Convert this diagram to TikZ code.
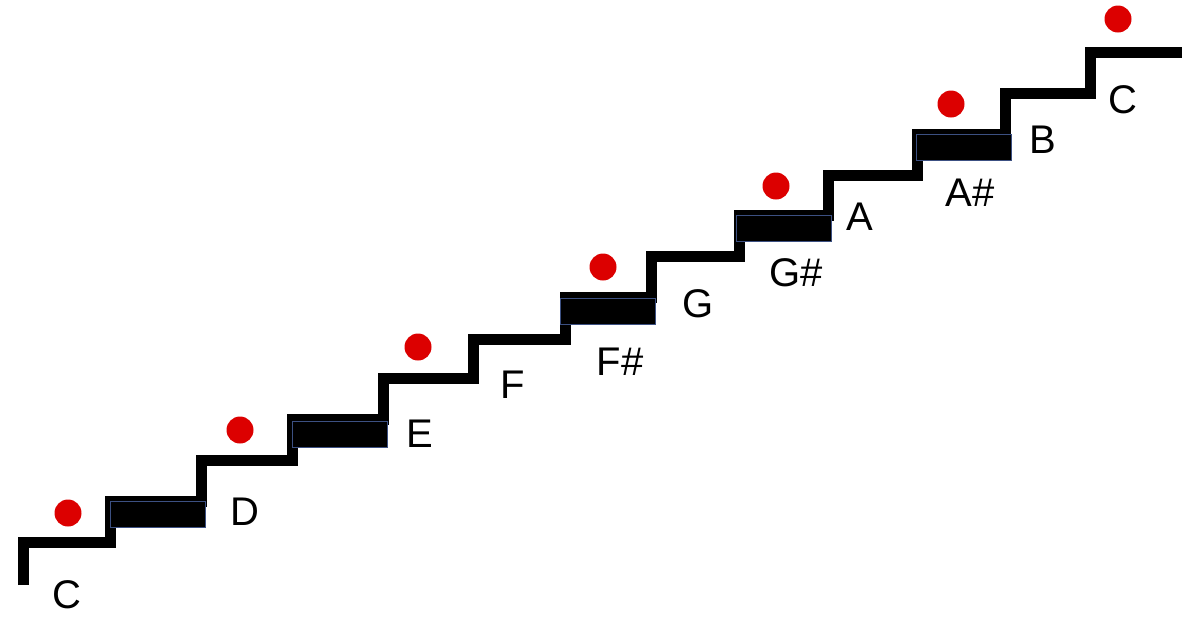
\documentclass[tikz,border=0pt]{standalone}
\usepackage{fontspec}
\setmainfont{Liberation Sans}
\definecolor{dotred}{RGB}{220,0,0}
\definecolor{keyedge}{RGB}{60,80,130}
\begin{document}
\begin{tikzpicture}[x=0.5pt,y=-0.5pt,
  stair/.style={line width=5.5pt},
  sharp/.style={fill=black,draw=keyedge,line width=0.5pt},
  dot/.style={fill=dotred},
  note/.style={font=\fontsize{20}{24}\selectfont}]
\useasboundingbox (0,0) rectangle (1190,623);
\draw [stair] (23,585) |- (110,542) |- (201,501) |- (292,460) |- (383,419) |- (473,378) |- (565,339) |- (651,297) |- (739,256) |- (828,215) |- (917,175) |- (1005,134) |- (1090,93) |- (1182,52);
\draw [sharp] (110,501) rectangle ++(95,26);
\draw [sharp] (292,421) rectangle ++(95,26);
\draw [sharp] (560,298) rectangle ++(95,26);
\draw [sharp] (736,215) rectangle ++(95,26);
\draw [sharp] (916,134) rectangle ++(95,26);
\fill [dot] (68,513) circle [radius=13.5];
\fill [dot] (240,430) circle [radius=13.5];
\fill [dot] (418,347) circle [radius=13.5];
\fill [dot] (603,267) circle [radius=13.5];
\fill [dot] (776,186) circle [radius=13.5];
\fill [dot] (951,104) circle [radius=13.5];
\fill [dot] (1118,19) circle [radius=13.5];
\node [note] (lowc) at (67,595) {C};
\node [note] (d) at (245,512) {D};
\node [note] (e) at (420,434) {E};
\node [note] (f) at (513,385) {F};
\node [note] (fis) at (620,362) {F\#};
\node [note] (g) at (698,304) {G};
\node [note] (gis) at (796,273) {G\#};
\node [note] (a) at (860,217) {A};
\node [note] (ais) at (970,193) {A\#};
\node [note] (b) at (1043,140) {B};
\node [note] (highc) at (1123,100) {C};
\end{tikzpicture}
\end{document}
